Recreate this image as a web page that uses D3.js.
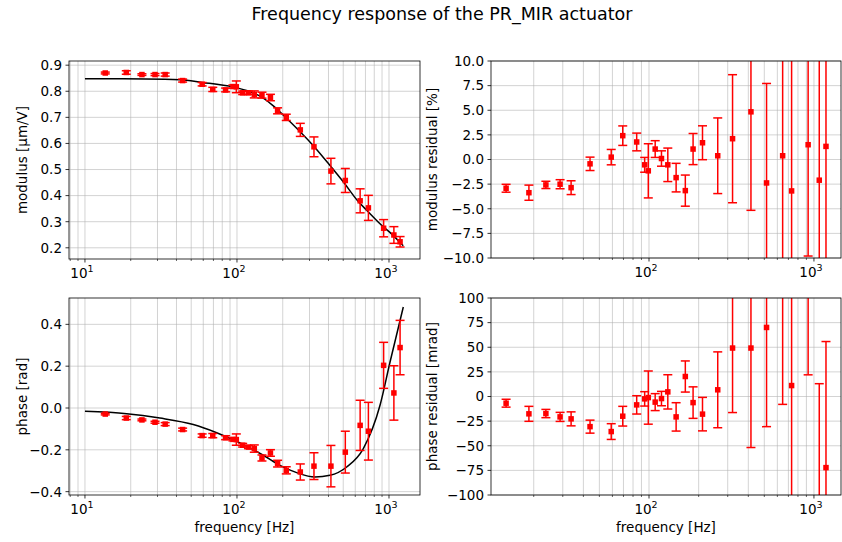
<!DOCTYPE html>
<html lang="en">
<head>
<meta charset="utf-8">
<title>Frequency response of the PR_MIR actuator</title>
<script src="https://cdn.jsdelivr.net/npm/d3@7"></script>
<style>
  body { margin: 0; background: #fff; }
  text { font-family: "DejaVu Sans", sans-serif; fill: #000; }
  .grid line { stroke: #b0b0b0; stroke-opacity: 0.7; stroke-width: 0.8; }
  .spine { fill: none; stroke: #000; stroke-width: 0.8; }
  .label { font-size: 13.5px; }
  .err { stroke: #ff0000; stroke-width: 1.5; }
  .fit { fill: none; stroke: #000; stroke-width: 1.5; }
</style>
</head>
<body>
<svg id="chart" width="842" height="542"></svg>
<script>
// measured points
const freq = [13.6, 18.7, 23.7, 28.9, 33.7, 43.9, 59, 69.3, 84.2, 94.1, 99, 109, 119, 130,
  146, 166, 185, 211, 261, 321, 415, 516, 646, 732, 922, 1077, 1183];
const modulus = [0.870, 0.872, 0.864, 0.864, 0.864, 0.841, 0.827, 0.807, 0.805, 0.818, 0.817,
  0.794, 0.794, 0.788, 0.785, 0.776, 0.725, 0.700, 0.652, 0.587, 0.494, 0.458, 0.380, 0.353,
  0.275, 0.249, 0.223];
const modulusErr = [0.0035, 0.0067, 0.0032, 0.004, 0.006, 0.0057, 0.0065, 0.008, 0.0072, 0.0061,
  0.0225, 0.0067, 0.0062, 0.0134, 0.0114, 0.0123, 0.0115, 0.012, 0.025, 0.038, 0.049, 0.046,
  0.046, 0.048, 0.033, 0.032, 0.02];
const phase = [-0.029, -0.048, -0.057, -0.068, -0.077, -0.103, -0.132, -0.132, -0.142, -0.150,
  -0.151, -0.178, -0.187, -0.194, -0.239, -0.215, -0.266, -0.298, -0.306, -0.278, -0.278,
  -0.211, -0.083, -0.111, 0.204, 0.072, 0.289];
const phaseErr = [0.004, 0.0076, 0.0042, 0.0046, 0.0071, 0.0066, 0.008, 0.010, 0.0093, 0.0073,
  0.027, 0.0086, 0.0073, 0.0174, 0.0144, 0.0158, 0.016, 0.017, 0.0385, 0.064, 0.099, 0.10,
  0.12, 0.138, 0.11, 0.13, 0.13];
const modulusResidual = [-2.92, -3.37, -2.58, -2.51, -2.86, -0.44, 0.24, 2.42, 1.78, -0.54, -1.15,
  1.06, 0.10, -0.54, -1.84, -3.16, 1.06, 1.70, 0.38, 2.11, 4.84, -2.38, 0.38, -3.19, 1.50,
  -2.10, 1.33];
const modulusResidualErr = [0.4, 0.77, 0.37, 0.46, 0.7, 0.68, 0.78, 0.99, 0.9, 0.75, 2.75, 0.85,
  0.78, 1.7, 1.45, 1.58, 1.58, 1.72, 3.84, 6.5, 10.0, 10.1, 12, 13.6, 11.3, 12.8, 12];
const phaseResidual = [-6.8, -17.6, -17.3, -20.7, -22.7, -30.6, -35.6, -20, -8.5, -2.4, -1.1,
  -5.7, -2.1, 4.7, -20.7, 20.3, -6.2, -17.9, 6.8, 49.2, 49.2, 70.1, 112, 11.1, 132, -117, -72.2];
const phaseResidualErr = [4, 7.6, 4.2, 4.6, 7.1, 6.6, 8, 10, 9.3, 7.3, 27, 8.6, 7.3, 17.4, 14.4,
  15.8, 16, 17, 38.5, 65.5, 101, 100.7, 120, 138, 110, 130, 128];

// fitted model
const fitFreqModulus = [10, 25, 42.2, 58.6, 94.6, 120, 149, 175, 202, 318, 403, 506, 622, 713,
  903, 1005, 1241];
const fitModulus = [0.848, 0.847, 0.844, 0.834, 0.816, 0.800, 0.774, 0.742, 0.708, 0.591, 0.520,
  0.449, 0.380, 0.344, 0.284, 0.261, 0.208];
const fitFreqPhase = [10, 18.8, 31.1, 51.6, 73.5, 104.7, 149, 191.8, 247, 326, 409, 527, 678,
  873, 1016, 1242];
const fitPhase = [-0.016, -0.027, -0.048, -0.079, -0.118, -0.167, -0.226, -0.274, -0.309,
  -0.330, -0.322, -0.282, -0.194, 0.013, 0.220, 0.483];

// tick labels
const modulusTicks = [0.2, 0.3, 0.4, 0.5, 0.6, 0.7, 0.8, 0.9];
const modResTicks = [-10, -7.5, -5, -2.5, 0, 2.5, 5, 7.5, 10];
const phaseTicks = [-0.4, -0.2, 0, 0.2, 0.4];
const phaseResTicks = [-100, -75, -50, -25, 0, 25, 50, 75, 100];

const svg = d3.select("#chart");
const minus = s => s.replace("-", "\u2212");

svg.append("text")
  .attr("x", 442).attr("y", 20)
  .attr("text-anchor", "middle")
  .style("font-size", "17.5px")
  .text("Frequency response of the PR_MIR actuator");

function panel(cfg) {
  const x = d3.scaleLog().domain(cfg.xDomain).range([cfg.x0, cfg.x1]);
  const y = d3.scaleLinear().domain(cfg.yDomain).range([cfg.y1, cfg.y0]);
  const g = svg.append("g");

  // log ticks
  const lo = Math.floor(Math.log10(cfg.xDomain[0])), hi = Math.ceil(Math.log10(cfg.xDomain[1]));
  const major = [], minor = [];
  for (let k = lo; k <= hi; k++) {
    for (let m = 1; m <= 9; m++) {
      const v = m * Math.pow(10, k);
      if (v < cfg.xDomain[0] || v > cfg.xDomain[1]) continue;
      (m === 1 ? major : minor).push(v);
    }
  }

  const grid = g.append("g").attr("class", "grid");
  grid.selectAll(".gx").data(major.concat(minor)).enter().append("line")
    .attr("x1", d => x(d)).attr("x2", d => x(d))
    .attr("y1", cfg.y0).attr("y2", cfg.y1);
  grid.selectAll(".gy").data(cfg.yTicks).enter().append("line")
    .attr("x1", cfg.x0).attr("x2", cfg.x1)
    .attr("y1", d => y(d)).attr("y2", d => y(d));

  // x axis
  const xt = g.append("g");
  xt.selectAll("line.mj").data(major).enter().append("line").attr("class", "mj")
    .attr("x1", d => x(d)).attr("x2", d => x(d))
    .attr("y1", cfg.y1).attr("y2", cfg.y1 + 3.5)
    .attr("stroke", "#000").attr("stroke-width", 0.8);
  xt.selectAll("line.mn").data(minor).enter().append("line").attr("class", "mn")
    .attr("x1", d => x(d)).attr("x2", d => x(d))
    .attr("y1", cfg.y1).attr("y2", cfg.y1 + 2)
    .attr("stroke", "#000").attr("stroke-width", 0.6);
  const xl = xt.selectAll("text").data(major).enter().append("text")
    .attr("x", d => x(d) - 3).attr("y", cfg.y1 + 19)
    .attr("text-anchor", "middle")
    .style("font-size", "13.5px");
  xl.append("tspan").text("10");
  xl.append("tspan").attr("dy", -6).style("font-size", "9.5px")
    .text(d => Math.round(Math.log10(d)));

  // y axis
  const yt = g.append("g");
  yt.selectAll("line").data(cfg.yTicks).enter().append("line")
    .attr("x1", cfg.x0 - 3.5).attr("x2", cfg.x0)
    .attr("y1", d => y(d)).attr("y2", d => y(d))
    .attr("stroke", "#000").attr("stroke-width", 0.8);
  yt.selectAll("text").data(cfg.yTicks).enter().append("text")
    .attr("x", cfg.x0 - 7).attr("y", d => y(d))
    .attr("dy", "0.36em")
    .attr("text-anchor", "end")
    .style("font-size", "13.5px")
    .text(d => minus(cfg.fmt(d)));

  g.append("text").attr("class", "label")
    .attr("transform", `translate(${cfg.ylabelX},${(cfg.y0 + cfg.y1) / 2}) rotate(-90)`)
    .attr("text-anchor", "middle")
    .text(cfg.ylabel);
  if (cfg.xlabel) {
    g.append("text").attr("class", "label")
      .attr("x", (cfg.x0 + cfg.x1) / 2).attr("y", cfg.y1 + 37)
      .attr("text-anchor", "middle")
      .text(cfg.xlabel);
  }

  // data
  const clipId = "clip" + cfg.id;
  svg.append("clipPath").attr("id", clipId).append("rect")
    .attr("x", cfg.x0).attr("y", cfg.y0)
    .attr("width", cfg.x1 - cfg.x0).attr("height", cfg.y1 - cfg.y0);
  const plot = g.append("g").attr("clip-path", `url(#${clipId})`);

  if (cfg.fitX) {
    const line = d3.line().x(d => x(d[0])).y(d => y(d[1])).curve(d3.curveMonotoneX);
    plot.append("path").attr("class", "fit")
      .attr("d", line(d3.zip(cfg.fitX, cfg.fitY)));
  }

  const pts = d3.zip(freq, cfg.values, cfg.errors);
  const eb = plot.selectAll(".eb").data(pts).enter().append("g");
  eb.append("line").attr("class", "err")
    .attr("x1", d => x(d[0])).attr("x2", d => x(d[0]))
    .attr("y1", d => y(d[1] - d[2])).attr("y2", d => y(d[1] + d[2]));
  eb.append("line").attr("class", "err")
    .attr("x1", d => x(d[0]) - 4.5).attr("x2", d => x(d[0]) + 4.5)
    .attr("y1", d => y(d[1] - d[2])).attr("y2", d => y(d[1] - d[2]));
  eb.append("line").attr("class", "err")
    .attr("x1", d => x(d[0]) - 4.5).attr("x2", d => x(d[0]) + 4.5)
    .attr("y1", d => y(d[1] + d[2])).attr("y2", d => y(d[1] + d[2]));
  eb.append("rect")
    .attr("x", d => x(d[0]) - 2.75).attr("y", d => y(d[1]) - 2.75)
    .attr("width", 5.5).attr("height", 5.5)
    .attr("fill", "#ff0000");

  g.append("rect").attr("class", "spine")
    .attr("x", cfg.x0).attr("y", cfg.y0)
    .attr("width", cfg.x1 - cfg.x0).attr("height", cfg.y1 - cfg.y0);
}

const leftX = [Math.pow(10, 0.895), Math.pow(10, 3.204)];
const rightX = [Math.pow(10, 1.042), Math.pow(10, 3.164)];

panel({ id: "tl", x0: 69, x1: 420, y0: 61, y1: 259, xDomain: leftX, yDomain: [0.157, 0.916],
  yTicks: modulusTicks, fmt: d3.format(".1f"), ylabel: "modulus [µm/V]", ylabelX: 27,
  values: modulus, errors: modulusErr, fitX: fitFreqModulus, fitY: fitModulus });
panel({ id: "tr", x0: 491, x1: 841, y0: 61, y1: 258, xDomain: rightX, yDomain: [-10, 10],
  yTicks: modResTicks, fmt: d3.format(".1f"), ylabel: "modulus residual [%]", ylabelX: 437,
  values: modulusResidual, errors: modulusResidualErr });
panel({ id: "bl", x0: 69, x1: 420, y0: 298, y1: 495, xDomain: leftX, yDomain: [-0.416, 0.526],
  yTicks: phaseTicks, fmt: d3.format(".1f"), ylabel: "phase [rad]", ylabelX: 27,
  xlabel: "frequency [Hz]",
  values: phase, errors: phaseErr, fitX: fitFreqPhase, fitY: fitPhase });
panel({ id: "br", x0: 491, x1: 841, y0: 298, y1: 495, xDomain: rightX, yDomain: [-100, 100],
  yTicks: phaseResTicks, fmt: d3.format("d"), ylabel: "phase residual [mrad]", ylabelX: 437,
  xlabel: "frequency [Hz]",
  values: phaseResidual, errors: phaseResidualErr });
</script>
</body>
</html>
